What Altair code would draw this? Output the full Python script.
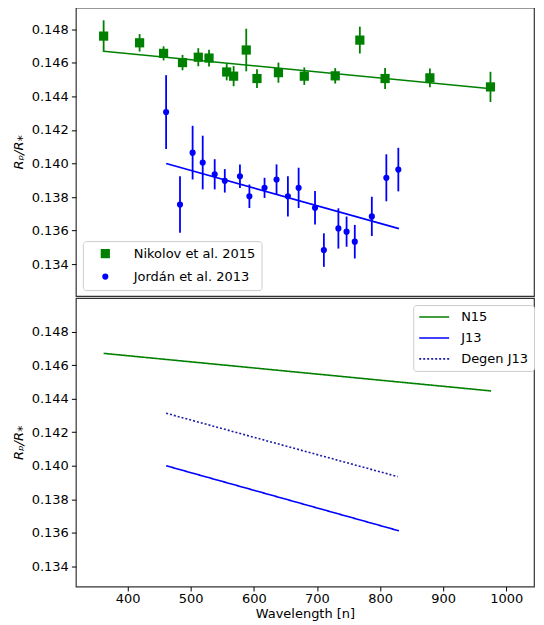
import altair as alt
import pandas as pd

# ---------------- data ----------------
n15_wl = [362, 419, 457, 487, 512, 529, 557, 568, 588, 605, 639, 680, 729, 768, 808, 879, 975]
n15_rp = [0.14760, 0.14720, 0.14657, 0.14602, 0.14634, 0.14629, 0.14546, 0.14521, 0.14677,
          0.14507, 0.14542, 0.14521, 0.14523, 0.14736, 0.14507, 0.14511, 0.14457]
n15_err = [0.00094, 0.00052, 0.00042, 0.00046, 0.00054, 0.00050, 0.00050, 0.00060, 0.00127,
           0.00056, 0.00060, 0.00052, 0.00046, 0.00080, 0.00062, 0.00056, 0.00090]

j13_wl = [461, 483, 503, 519, 538, 554, 578, 593, 617, 636, 654, 671, 697, 711, 734, 747,
          760, 787, 810, 829]
j13_rp = [0.14307, 0.13756, 0.14065, 0.14006, 0.13936, 0.13897, 0.13924, 0.13805, 0.13855,
          0.13905, 0.13805, 0.13855, 0.13736, 0.13484, 0.13613, 0.13594, 0.13534, 0.13685,
          0.13915, 0.13964]
j13_err = [0.00220, 0.00168, 0.00160, 0.00160, 0.00090, 0.00070, 0.00070, 0.00070, 0.00060,
           0.00090, 0.00120, 0.00120, 0.00100, 0.00100, 0.00120, 0.00090, 0.00100, 0.00117,
           0.00140, 0.00130]

fit_n15_wl = [362, 976]
fit_n15_rp = [0.14670, 0.14446]
fit_j13_wl = [461, 830]
fit_j13_rp = [0.14000, 0.13612]
degen_j13_wl = [461, 828]
degen_j13_rp = [0.14313, 0.13935]

top_labels = ["Nikolov et al. 2015", "Jordán et al. 2013"]
bottom_labels = ["N15", "J13", "Degen J13"]
y_ticks = [0.134, 0.136, 0.138, 0.140, 0.142, 0.144, 0.146, 0.148]
x_ticks = [400, 500, 600, 700, 800, 900, 1000]

GREEN = "#008000"
BLUE = "#0000ff"
DEGEN = "#1c1ca8"
FONT = "DejaVu Sans"

# ---------------- tables ----------------
n15 = pd.DataFrame({"series": top_labels[0], "wl": n15_wl, "rp": n15_rp, "err": n15_err})
j13 = pd.DataFrame({"series": top_labels[1], "wl": j13_wl, "rp": j13_rp, "err": j13_err})
pts = pd.concat([n15, j13], ignore_index=True)
pts["lo"] = pts["rp"] - pts["err"]
pts["hi"] = pts["rp"] + pts["err"]

fitN = pd.DataFrame({"wl": fit_n15_wl, "rp": fit_n15_rp})
fitJ = pd.DataFrame({"wl": fit_j13_wl, "rp": fit_j13_rp})

lines = pd.concat([
    pd.DataFrame({"series": bottom_labels[0], "wl": fit_n15_wl, "rp": fit_n15_rp}),
    pd.DataFrame({"series": bottom_labels[1], "wl": fit_j13_wl, "rp": fit_j13_rp}),
    pd.DataFrame({"series": bottom_labels[2], "wl": degen_j13_wl, "rp": degen_j13_rp}),
], ignore_index=True)

W = 459
H = 289
xscale = alt.Scale(domain=[318, 1044], nice=False, zero=False)
ytop = alt.Scale(domain=[0.1321, 0.1493], nice=False, zero=False)
ybot = alt.Scale(domain=[0.1328, 0.1500], nice=False, zero=False)

yaxis = alt.Axis(values=y_ticks, format=".3f", title="Rₚ/R⁎", titleFontStyle="italic",
                 titleFontWeight="normal", grid=False, tickSize=4.5, labelPadding=3,
                 titlePadding=6)

top_leg = dict(title=None, orient="none", legendX=7, legendY=234,
               fillColor="white", strokeColor="#cccccc",
               cornerRadius=3, padding=6, symbolOffset=10,
               labelOffset=22, rowPadding=9, symbolSize=70,
               labelFontSize=13, labelFont=FONT, labelColor="black")

# ---------------- top panel ----------------
X_top = alt.X("wl:Q", scale=xscale, axis=None)
errN = alt.Chart(pts[pts.series == top_labels[0]]).mark_rule(strokeWidth=1.8, color=GREEN).encode(
    x=X_top, y=alt.Y("lo:Q", scale=ytop, axis=yaxis), y2="hi:Q",
)
errJ = alt.Chart(pts[pts.series == top_labels[1]]).mark_rule(strokeWidth=1.8, color=BLUE).encode(
    x=X_top, y=alt.Y("lo:Q", scale=ytop, axis=yaxis), y2="hi:Q",
)
lineN = alt.Chart(fitN).mark_line(strokeWidth=1.6, color=GREEN).encode(
    x=X_top, y=alt.Y("rp:Q", scale=ytop, axis=yaxis),
)
lineJ = alt.Chart(fitJ).mark_line(strokeWidth=1.6, color=BLUE).encode(
    x=X_top, y=alt.Y("rp:Q", scale=ytop, axis=yaxis),
)
points = alt.Chart(pts).mark_point(filled=True, opacity=1).encode(
    x=X_top,
    y=alt.Y("rp:Q", scale=ytop, axis=yaxis),
    color=alt.Color("series:N", scale=alt.Scale(domain=top_labels, range=[GREEN, BLUE]),
                    legend=alt.Legend(**top_leg)),
    shape=alt.Shape("series:N", scale=alt.Scale(domain=top_labels, range=["square", "circle"]),
                    legend=alt.Legend(**top_leg)),
    size=alt.Size("series:N", scale=alt.Scale(domain=top_labels, range=[85, 38]), legend=None),
)

top = alt.layer(lineN, lineJ, errN, errJ, points).properties(width=W, height=H)

# ---------------- bottom panel ----------------
leg2 = dict(title=None, orient="none", legendX=338, legendY=7, fillColor="white",
            strokeColor="#cccccc", cornerRadius=3, padding=5, symbolSize=900,
            clipHeight=14, symbolStrokeWidth=1.6, labelOffset=11, rowPadding=7,
            labelFontSize=13, labelFont=FONT, labelColor="black", symbolType="stroke")
bottom = alt.Chart(lines).mark_line(strokeWidth=1.6).encode(
    x=alt.X("wl:Q", scale=xscale,
            axis=alt.Axis(values=x_ticks, format="d", title="Wavelength [n]", grid=False,
                          tickSize=4.5, labelPadding=2, titlePadding=2,
                          titleFontWeight="normal")),
    y=alt.Y("rp:Q", scale=ybot, axis=yaxis),
    color=alt.Color("series:N", scale=alt.Scale(domain=bottom_labels, range=[GREEN, BLUE, DEGEN]),
                    legend=alt.Legend(**leg2)),
    strokeDash=alt.StrokeDash("series:N",
                              scale=alt.Scale(domain=bottom_labels, range=[[1, 0], [1, 0], [2, 2]]),
                              legend=alt.Legend(**leg2)),
    detail="series:N",
).properties(width=W, height=H)

chart = alt.vconcat(top, bottom, spacing=0).resolve_scale(
    x="independent", y="independent", color="independent", shape="independent",
    size="independent", strokeDash="independent"
).resolve_legend(
    color="independent", shape="independent", strokeDash="independent"
).properties(
    padding={"left": 3, "top": -2, "right": 0, "bottom": 0}
).configure_view(
    stroke="#333333", strokeWidth=1.2
).configure_axis(
    labelFont=FONT, titleFont=FONT, labelFontSize=13, titleFontSize=13,
    labelColor="black", titleColor="black", domain=False, tickColor="black", tickWidth=1
)

chart.save("out.html", embed_options={"renderer": "svg", "actions": False})
